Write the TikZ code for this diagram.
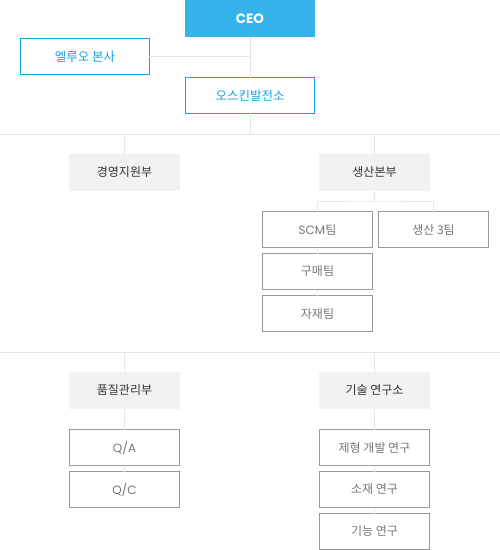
\documentclass[tikz,border=0pt]{standalone}
\usepackage{fontspec}
\setmainfont{Noto Sans CJK KR}
\newfontfamily\popfont{Poppins}
\usetikzlibrary{positioning}

\definecolor{ceoblue}{HTML}{35B4EB}
\definecolor{siteblue}{HTML}{1A9FE2}
\definecolor{linegray}{HTML}{E6E6E6}
\definecolor{deptgray}{HTML}{F2F2F2}
\definecolor{teamline}{HTML}{999999}
\definecolor{teamtext}{HTML}{777777}
\definecolor{depttext}{HTML}{333333}

\tikzset{
  ceo/.style={rectangle, fill=ceoblue, text=white, font=\popfont\fontsize{13.5}{16}\selectfont\bfseries, minimum width=130pt, minimum height=37pt, inner sep=0pt, outer sep=0pt, anchor=north west},
  site/.style={rectangle, draw=siteblue, line width=1.4pt, fill=white, text=siteblue, font=\fontsize{12.5}{15}\selectfont, minimum width=128.6pt, minimum height=35.6pt, inner sep=0pt, outer sep=0pt, anchor=north west},
  dept/.style={rectangle, fill=deptgray, text=depttext, font=\fontsize{12}{15}\selectfont, minimum width=111pt, minimum height=37pt, inner sep=0pt, outer sep=0pt, anchor=north west},
  team/.style={rectangle, draw=teamline, line width=1pt, fill=white, text=teamtext, font=\fontsize{12}{15}\selectfont, minimum width=110pt, minimum height=36pt, inner sep=0pt, outer sep=0pt, anchor=north west},
  conn/.style={draw=linegray, line width=1pt},
}

\begin{document}
\begin{tikzpicture}[x=1pt, y=-1pt]
  \useasboundingbox (0,0) rectangle (500,550);

  % top
  \node[ceo]  (ceo)   at (185,0)     {CEO};
  \node[site] (elruo) at (20.7,38.7) {엘루오 본사};
  \node[site] (oskin) at (185.7,77.7) {오스킨발전소};

  % divisions
  \node[dept] (mgmt) at (69,154)  {경영지원부};
  \node[dept] (prod) at (319,154) {생산본부};
  \node[dept] (qual) at (69,372)  {품질관리부};
  \node[dept] (lab)  at (319,372) {기술 연구소};

  % teams
  \node[team] (scm)   at (262.5,211.5) {{\popfont SCM}팀};
  \node[team] (team3) at (378.5,211.5) {생산 3팀};
  \node[team] (buy)   at (262.5,253.5) {구매팀};
  \node[team] (stock) at (262.5,295.5) {자재팀};
  \node[team] (qa)    at (69.5,429.5)  {\popfont Q/A};
  \node[team] (qc)    at (69.5,471.5)  {\popfont Q/C};
  \node[team] (form)  at (319.5,429.5) {제형 개발 연구};
  \node[team] (mat)   at (319.5,471.5) {소재 연구};
  \node[team] (func)  at (319.5,513.5) {기능 연구};

  \coordinate (rowA-w) at (0,134);
  \coordinate (rowA-e) at (500,134);
  \coordinate (rowB-w) at (0,352);
  \coordinate (rowB-e) at (500,352);
  \coordinate (prodfork) at (375,201);

  \draw[conn] (ceo.south) -- (oskin.north);
  \draw[conn] (elruo.east) -- (elruo -| ceo);
  \draw[conn] (oskin.south) -- (oskin |- rowA-w);
  \draw[conn] (rowA-w) -- (rowA-e);
  \draw[conn] (mgmt.north) -- (mgmt |- rowA-w);
  \draw[conn] (prod.north) -- (prod |- rowA-w);

  \draw[conn] (prod.south) -- (prodfork);
  \draw[conn] (scm.north) |- (prodfork) -| (team3.north);
  \draw[conn] (scm.south) -- (buy.north);
  \draw[conn] (buy.south) -- (stock.north);

  \draw[conn] (rowB-w) -- (rowB-e);
  \draw[conn] (qual.north) -- (qual |- rowB-w);
  \draw[conn] (lab.north) -- (lab |- rowB-w);
  \draw[conn] (qual.south) -- (qa.north);
  \draw[conn] (qa.south) -- (qc.north);
  \draw[conn] (lab.south) -- (form.north);
  \draw[conn] (form.south) -- (mat.north);
  \draw[conn] (mat.south) -- (func.north);
\end{tikzpicture}
\end{document}
